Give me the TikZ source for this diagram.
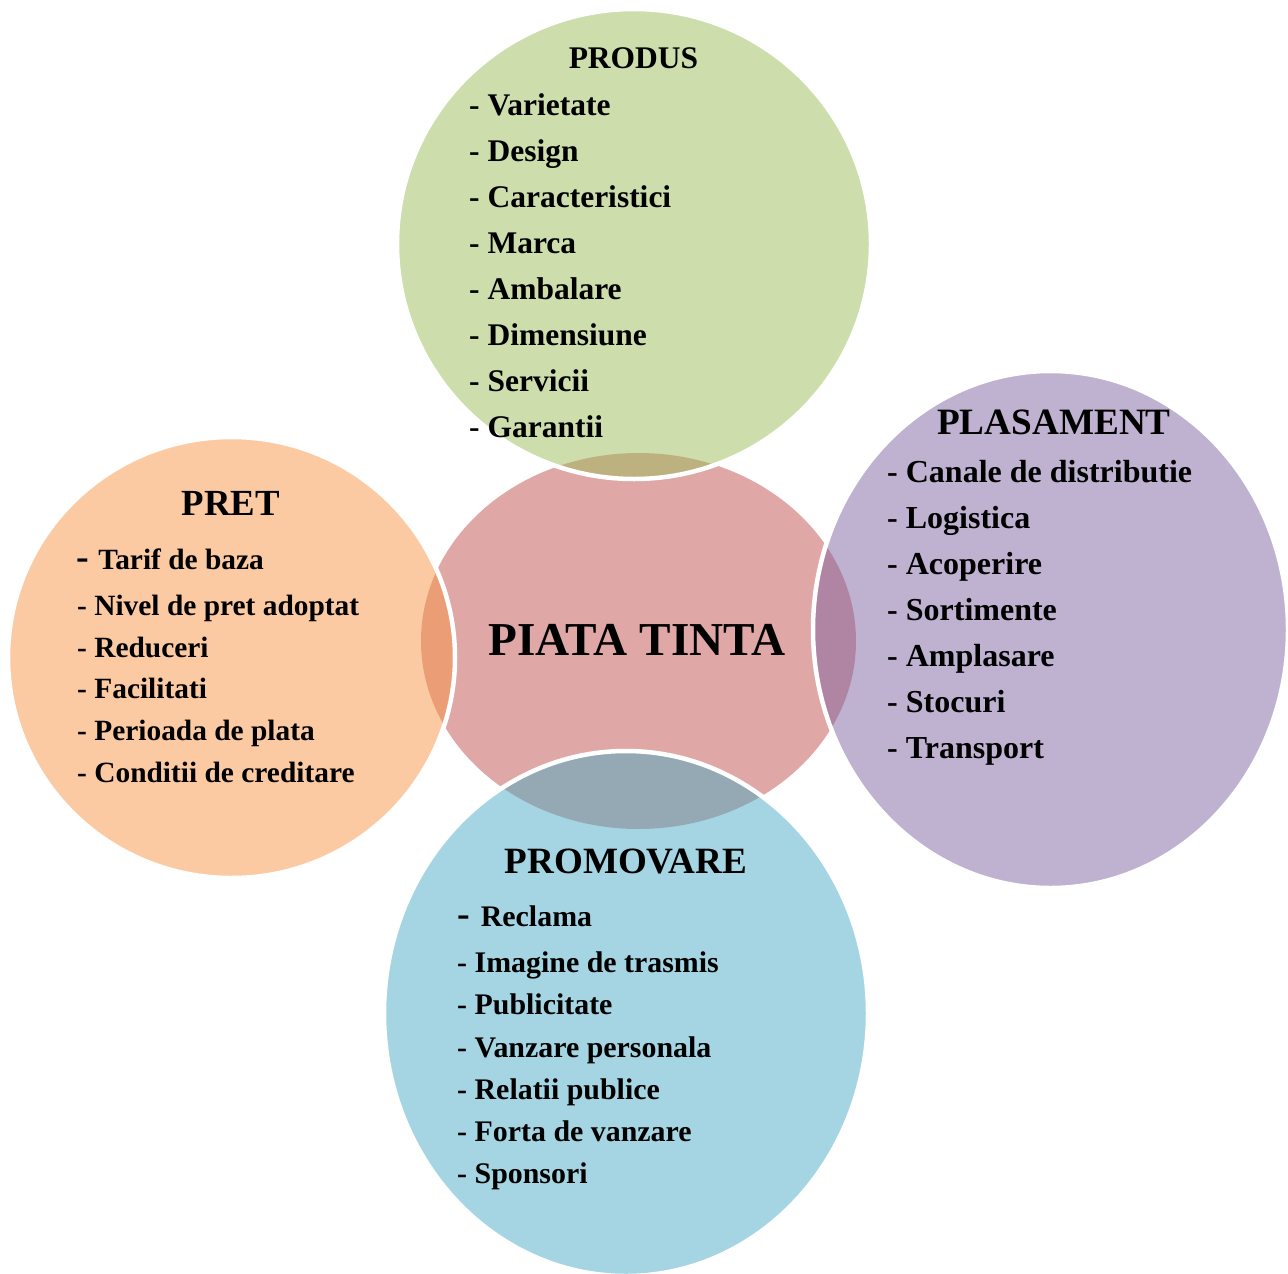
\documentclass[tikz,border=0pt]{standalone}
\usepackage{fontspec}
\setmainfont{Liberation Serif}
\definecolor{cred}{HTML}{C0504D}
\definecolor{cgreen}{HTML}{9BBB59}
\definecolor{cpurple}{HTML}{8064A2}
\definecolor{caqua}{HTML}{4BACC6}
\definecolor{corange}{HTML}{F79646}
\tikzset{
  core/.style={fill=cred, fill opacity=0.5},
  petal/.style={fill=#1, fill opacity=0.5, draw=white, line width=4.5pt},
  head/.style={inner sep=0pt, anchor=base, font=\bfseries\fontsize{#1}{#1}\selectfont},
  item/.style={inner sep=0pt, anchor=base west, font=\bfseries\fontsize{#1}{#1}\selectfont},
}
\newcommand{\bigdash}{{\fontsize{38}{38}\selectfont-}}
\begin{document}
\begin{tikzpicture}[x=1pt,y=-1pt]
\useasboundingbox (0,0) rectangle (1288,1274);
\clip (0,0) rectangle (1288,1274);
% centre
\path[core] (638.5,641) ellipse [x radius=217.5pt, y radius=188pt];
% outer circles
\path[petal=cgreen] (634,244) ellipse [x radius=237pt, y radius=235pt];
\path[petal=corange] (231.5,657.5) ellipse [x radius=223.5pt, y radius=220.5pt];
\path[petal=cpurple] (1050.5,629.5) ellipse [x radius=237.5pt, y radius=258.5pt];
\path[petal=caqua] (626,1013.5) ellipse [x radius=242pt, y radius=262.5pt];

% centre text
\node[head=47.2] (pt) at (637,655) {PIATA TINTA};

% PRODUS
\node[head=31.5] (hprodus) at (633.5,68) {PRODUS};
\node[item=31.5] (p1) at (469,115) {- Varietate};
\node[item=31.5] (p2) at (469,161) {- Design};
\node[item=31.5] (p3) at (469,207) {- Caracteristici};
\node[item=31.5] (p4) at (469,253) {- Marca};
\node[item=31.5] (p5) at (469,299) {- Ambalare};
\node[item=31.5] (p6) at (469,345) {- Dimensiune};
\node[item=31.5] (p7) at (469,391) {- Servicii};
\node[item=31.5] (p8) at (469,437) {- Garantii};

% PLASAMENT
\node[head=37.2] (hplas) at (1054,434) {PLASAMENT};
\node[item=32] (l1) at (887,482) {- Canale de distributie};
\node[item=32] (l2) at (887,528) {- Logistica};
\node[item=32] (l3) at (887,574) {- Acoperire};
\node[item=32] (l4) at (887,620) {- Sortimente};
\node[item=32] (l5) at (887,666) {- Amplasare};
\node[item=32] (l6) at (887,712) {- Stocuri};
\node[item=32] (l7) at (887,758) {- Transport};

% PRET
\node[head=36.8] (hpret) at (231,515) {PRET};
\node[item=29.4] (r1) at (76.5,569) {\bigdash\hspace{9pt}Tarif de baza};
\node[item=29.4] (r2) at (77,615) {- Nivel de pret adoptat};
\node[item=29.4] (r3) at (77,657) {- Reduceri};
\node[item=29.4] (r4) at (77,698) {- Facilitati};
\node[item=29.4] (r5) at (77,740) {- Perioada de plata};
\node[item=29.4] (r6) at (77,782) {- Conditii de creditare};

% PROMOVARE
\node[head=37.1] (hprom) at (626,873) {PROMOVARE};
\node[item=29.9] (m1) at (457,926) {\bigdash\hspace{11pt}Reclama};
\node[item=29.9] (m2) at (457,972) {- Imagine de trasmis};
\node[item=29.9] (m3) at (457,1014) {- Publicitate};
\node[item=29.9] (m4) at (457,1057) {- Vanzare personala};
\node[item=29.9] (m5) at (457,1099) {- Relatii publice};
\node[item=29.9] (m6) at (457,1141) {- Forta de vanzare};
\node[item=29.9] (m7) at (457,1183) {- Sponsori};
\end{tikzpicture}
\end{document}
